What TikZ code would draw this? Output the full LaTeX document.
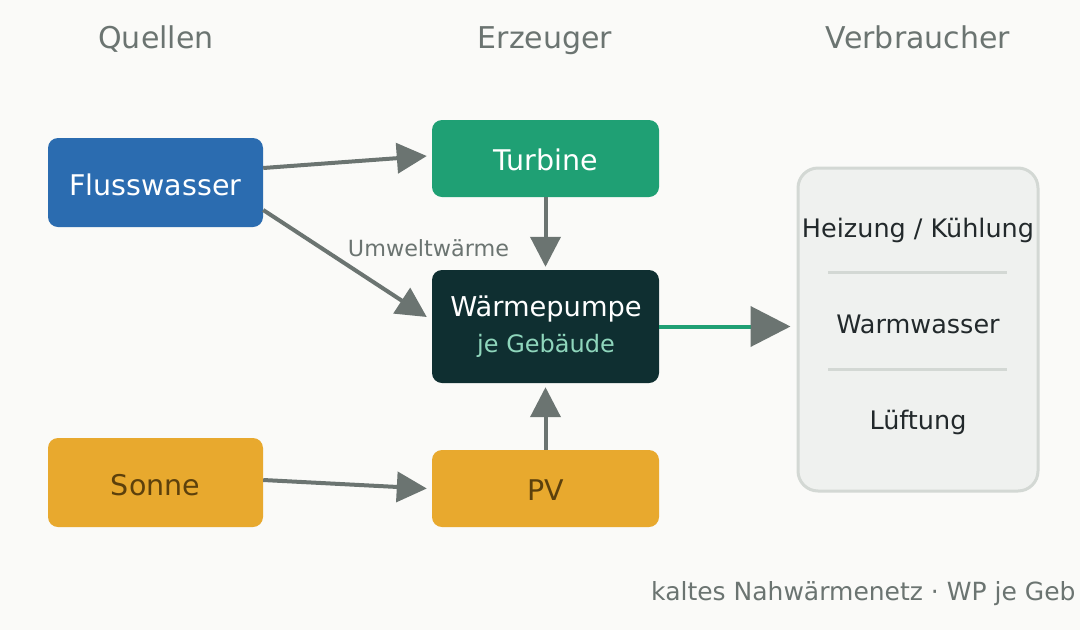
\documentclass[tikz,border=0pt]{standalone}
\usepackage{fontspec}
\setmainfont{DejaVu Sans}
\usetikzlibrary{arrows.meta}
\definecolor{bgc}{HTML}{FAFAF8}
\definecolor{blueb}{HTML}{2B6CB0}
\definecolor{greenb}{HTML}{1FA074}
\definecolor{darkb}{HTML}{0F2F31}
\definecolor{orangeb}{HTML}{E8A92E}
\definecolor{brownt}{HTML}{5C400C}
\definecolor{grayc}{HTML}{6B7471}
\definecolor{consf}{HTML}{EFF1EF}
\definecolor{consd}{HTML}{D3D8D4}
\definecolor{mint}{HTML}{8FD6BC}
\definecolor{darkt}{HTML}{22292B}
\tikzset{
  box/.style={rounded corners=10pt, inner sep=0pt},
  lbl/.style={anchor=base, inner sep=0pt},
  head/.style={lbl, font=\fontsize{30}{34}\selectfont, text=grayc},
  blab/.style={lbl, font=\fontsize{28.5}{33}\selectfont},
  arr/.style={draw=grayc, line width=4pt, -{Triangle[length=30pt,width=30pt]}},
  item/.style={lbl, font=\fontsize{25.5}{30}\selectfont, text=darkt},
}
\begin{document}
\begin{tikzpicture}[x=1pt,y=-1pt]
\useasboundingbox (0,0) rectangle (1080,630);
\clip (0,0) rectangle (1080,630);
\fill[bgc] (0,0) rectangle (1080,630);
% headings
\node[head] (h1) at (156,48) {Quellen};
\node[head] (h2) at (545,48) {Erzeuger};
\node[head] (h3) at (918,48) {Verbraucher};
% boxes
\node[box, fill=blueb, minimum width=215pt, minimum height=89pt] (fluss) at (155.5,182.5) {};
\node[blab, text=white] (flusst) at (155.5,195) {Flusswasser};
\node[box, fill=greenb, minimum width=227pt, minimum height=77pt] (turb) at (545.5,158.5) {};
\node[blab, text=white] (turbt) at (546,170) {Turbine};
\node[box, fill=darkb, minimum width=227pt, minimum height=113pt] (wp) at (545.5,326.5) {};
\node[lbl, text=white, font=\fontsize{27.3}{31}\selectfont] (wpt) at (546,316.7) {Wärmepumpe};
\node[lbl, text=mint, font=\fontsize{24}{29}\selectfont] (wps) at (546,352.7) {je Gebäude};
\node[box, fill=orangeb, minimum width=215pt, minimum height=89pt] (sonne) at (155.5,482.5) {};
\node[blab, text=brownt] (sonnet) at (155.5,495) {Sonne};
\node[box, fill=orangeb, minimum width=227pt, minimum height=77pt] (pv) at (545.5,488.5) {};
\node[blab, text=brownt] (pvt) at (545.5,500.7) {PV};
% consumers
\node[box, rounded corners=20pt, fill=consf, draw=consd, line width=3pt, minimum width=240pt, minimum height=323pt] (cons) at (918,329.5) {};
\node[item] (c1) at (918,237.3) {Heizung / Kühlung};
\node[item] (c2) at (918,333.3) {Warmwasser};
\node[item] (c3) at (918,429.3) {Lüftung};
\coordinate (s1a) at (828,272); \coordinate (s1b) at (1007,272);
\coordinate (s2a) at (828,369); \coordinate (s2b) at (1007,369);
\draw[consd, line width=3pt] (s1a) -- (s1b);
\draw[consd, line width=3pt] (s2a) -- (s2b);
% arrows
\draw[arr] ([yshift=14.5pt]fluss.east) -- ([xshift=-5pt,yshift=2.5pt]turb.west);
\draw[arr] ([yshift=-27.5pt]fluss.east) -- ([xshift=-5pt,yshift=9.5pt]wp.west);
\draw[arr] (turb.south) -- ([yshift=3pt]wp.north);
\draw[arr] (pv.north) -- ([yshift=-4pt]wp.south);
\draw[arr] ([yshift=2.5pt]sonne.east) -- ([xshift=-5pt]pv.west);
\draw[draw=greenb, line width=4pt, -{Triangle[length=40pt,width=40pt,color=grayc]}] (wp.east) -- ([xshift=-6pt]cons.west |- wp.east);
\node[lbl, font=\fontsize{22.3}{26}\selectfont, text=grayc] (uw) at (428.5,256.7) {Umweltwärme};
% footer
\node[anchor=base west, inner sep=0pt, font=\fontsize{25}{29}\selectfont, text=grayc] (foot) at (651,600) {kaltes Nahwärmenetz · WP je Geb};
\end{tikzpicture}
\end{document}
